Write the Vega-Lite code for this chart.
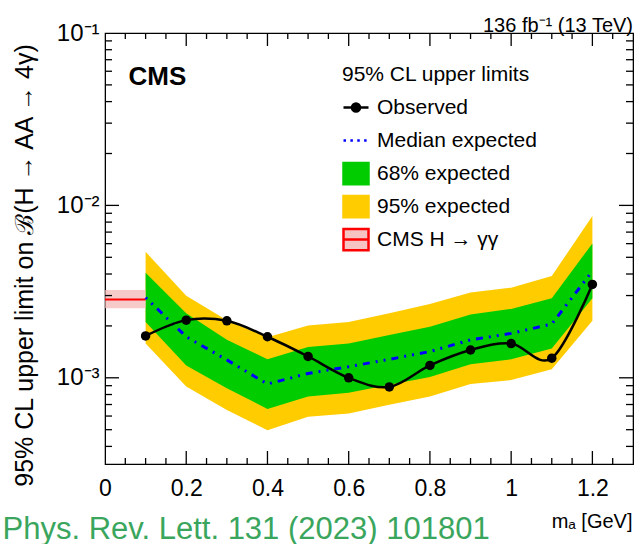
{
  "$schema": "https://vega.github.io/schema/vega-lite/v6.json",
  "width": 528,
  "height": 431,
  "autosize": {"type": "none"},
  "padding": {"left": 105, "top": 33, "right": 8, "bottom": 80},
  "background": "white",
  "title": {"text": "136 fb⁻¹ (13 TeV)", "anchor": "end", "fontSize": 20, "fontWeight": "normal", "font": "Liberation Sans", "offset": 6, "dy": 21, "color": "black"},
  "config": {
    "view": {"stroke": "black", "strokeWidth": 1.2},
    "font": "Liberation Sans",
    "tick": {"color": "black", "thickness": 1.3, "opacity": 1},
    "axis": {"grid": false, "ticks": false, "domainColor": "black", "labelColor": "black", "titleColor": "black", "labelFont": "Liberation Sans", "titleFont": "Liberation Sans", "titleFontWeight": "normal", "labelOverlap": false, "labelFlush": false}
  },
  "datasets": {
    "lim": [
      {"m": 0.1, "obs": 0.00175, "exp": 0.00292, "lo68": 0.00211, "hi68": 0.00407, "lo95": 0.00158, "hi95": 0.00538},
      {"m": 0.2, "obs": 0.00216, "exp": 0.00173, "lo68": 0.00118, "hi68": 0.00237, "lo95": 0.00089, "hi95": 0.00299},
      {"m": 0.3, "obs": 0.00214, "exp": 0.00127, "lo68": 0.00087, "hi68": 0.00166, "lo95": 0.00065, "hi95": 0.00216},
      {"m": 0.4, "obs": 0.00173, "exp": 0.00092, "lo68": 0.00066, "hi68": 0.00128, "lo95": 0.000497, "hi95": 0.00172},
      {"m": 0.5, "obs": 0.00133, "exp": 0.00106, "lo68": 0.00078, "hi68": 0.00151, "lo95": 0.000594, "hi95": 0.00201},
      {"m": 0.6, "obs": 0.00100, "exp": 0.00116, "lo68": 0.00082, "hi68": 0.00158, "lo95": 0.00062, "hi95": 0.00211},
      {"m": 0.7, "obs": 0.000885, "exp": 0.00128, "lo68": 0.00091, "hi68": 0.00177, "lo95": 0.000698, "hi95": 0.00237},
      {"m": 0.8, "obs": 0.00118, "exp": 0.00142, "lo68": 0.00101, "hi68": 0.00198, "lo95": 0.00078, "hi95": 0.00268},
      {"m": 0.9, "obs": 0.00145, "exp": 0.00166, "lo68": 0.00120, "hi68": 0.00233, "lo95": 0.00092, "hi95": 0.00312},
      {"m": 1.0, "obs": 0.00158, "exp": 0.00181, "lo68": 0.00128, "hi68": 0.00251, "lo95": 0.00097, "hi95": 0.00333},
      {"m": 1.1, "obs": 0.00130, "exp": 0.00205, "lo68": 0.00148, "hi68": 0.00289, "lo95": 0.00112, "hi95": 0.00389},
      {"m": 1.2, "obs": 0.00348, "exp": 0.00416, "lo68": 0.00289, "hi68": 0.00602, "lo95": 0.00214, "hi95": 0.00869}
    ],
    "hgg": [
      {"m": 0.0, "lo": 0.00253, "hi": 0.00323, "mid": 0.00285},
      {"m": 0.1, "lo": 0.00253, "hi": 0.00323, "mid": 0.00285}
    ],
    "xt": [
      {"v": 0.05, "major": false}, {"v": 0.1, "major": false}, {"v": 0.15, "major": false}, {"v": 0.2, "major": true},
      {"v": 0.25, "major": false}, {"v": 0.3, "major": false}, {"v": 0.35, "major": false}, {"v": 0.4, "major": true},
      {"v": 0.45, "major": false}, {"v": 0.5, "major": false}, {"v": 0.55, "major": false}, {"v": 0.6, "major": true},
      {"v": 0.65, "major": false}, {"v": 0.7, "major": false}, {"v": 0.75, "major": false}, {"v": 0.8, "major": true},
      {"v": 0.85, "major": false}, {"v": 0.9, "major": false}, {"v": 0.95, "major": false}, {"v": 1.0, "major": true},
      {"v": 1.05, "major": false}, {"v": 1.1, "major": false}, {"v": 1.15, "major": false}, {"v": 1.2, "major": true},
      {"v": 1.25, "major": false}
    ],
    "yt": [
      {"v": 0.0004, "major": false}, {"v": 0.0005, "major": false}, {"v": 0.0006, "major": false}, {"v": 0.0007, "major": false},
      {"v": 0.0008, "major": false}, {"v": 0.0009, "major": false}, {"v": 0.001, "major": true},
      {"v": 0.002, "major": false}, {"v": 0.003, "major": false}, {"v": 0.004, "major": false}, {"v": 0.005, "major": false},
      {"v": 0.006, "major": false}, {"v": 0.007, "major": false}, {"v": 0.008, "major": false}, {"v": 0.009, "major": false},
      {"v": 0.01, "major": true},
      {"v": 0.02, "major": false}, {"v": 0.03, "major": false}, {"v": 0.04, "major": false}, {"v": 0.05, "major": false},
      {"v": 0.06, "major": false}, {"v": 0.07, "major": false}, {"v": 0.08, "major": false}, {"v": 0.09, "major": false}
    ],
    "leg": [
      {"series": "Observed"},
      {"series": "Median expected"},
      {"series": "68% expected"},
      {"series": "95% expected"},
      {"series": "CMS H → γγ"}
    ]
  },
  "layer": [
    {
      "data": {"name": "lim"},
      "mark": {"type": "area", "color": "#ffcc00", "interpolate": "linear"},
      "encoding": {
        "x": {"field": "m", "type": "quantitative", "scale": {"domain": [0, 1.3], "nice": false, "zero": false},
          "axis": {"orient": "bottom", "values": [0, 0.2, 0.4, 0.6, 0.8, 1.0, 1.2],
            "format": "~g", "labelFontSize": 23, "labelPadding": 13,
            "title": "mₐ [GeV]", "titleFontSize": 20, "titleX": 527, "titleY": 63, "titleAlign": "right", "titleBaseline": "alphabetic"}},
        "y": {"field": "lo95", "type": "quantitative", "scale": {"type": "log", "domain": [0.00031623, 0.1], "nice": false},
          "axis": {"orient": "left", "values": [0.001, 0.01, 0.1],
            "labelExpr": "'10⁻' + ['','¹','²','³','⁴'][-round(log(datum.value)/LN10)]",
            "labelFontSize": 24, "labelPadding": 6,
            "title": "95% CL upper limit on ℬ(H → AA → 4γ)", "titleFontSize": 25, "titleX": -81, "titleY": 232, "titleAlign": "center", "titleBaseline": "middle", "titleAngle": -90}},
        "y2": {"field": "hi95"}
      }
    },
    {
      "data": {"name": "lim"},
      "mark": {"type": "area", "color": "#00cc00", "interpolate": "linear"},
      "encoding": {
        "x": {"field": "m", "type": "quantitative",
          "axis": {"orient": "top", "values": [0, 0.2, 0.4, 0.6, 0.8, 1.0, 1.2], "labels": false,
            "title": "CMS", "titleFontSize": 26, "titleFontWeight": "bold", "titleX": 23, "titleY": 51, "titleAlign": "left", "titleBaseline": "alphabetic"}},
        "y": {"field": "lo68", "type": "quantitative",
          "axis": {"orient": "right", "values": [0.001, 0.01, 0.1], "labels": false,
            "title": "Phys. Rev. Lett. 131 (2023) 101801", "titleColor": "#3aa65d", "titleFontSize": 31, "titleAngle": 0, "titleX": -631, "titleY": 505, "titleAlign": "left", "titleBaseline": "alphabetic"}},
        "y2": {"field": "hi68"}
      }
    },
    {
      "data": {"name": "hgg"},
      "mark": {"type": "area", "color": "#f4b4b4", "opacity": 0.7},
      "encoding": {
        "x": {"field": "m", "type": "quantitative", "axis": null},
        "y": {"field": "lo", "type": "quantitative", "axis": null},
        "y2": {"field": "hi"}
      }
    },
    {
      "data": {"name": "hgg"},
      "mark": {"type": "line", "color": "#ff0000", "strokeWidth": 2},
      "encoding": {
        "x": {"field": "m", "type": "quantitative", "axis": null},
        "y": {"field": "mid", "type": "quantitative", "axis": null}
      }
    },
    {
      "data": {"name": "lim"},
      "mark": {"type": "line", "color": "#0000ff", "strokeWidth": 3, "strokeDash": [2, 6, 2, 6, 7, 6]},
      "encoding": {
        "x": {"field": "m", "type": "quantitative", "axis": null},
        "y": {"field": "exp", "type": "quantitative", "axis": null}
      }
    },
    {
      "data": {"name": "lim"},
      "mark": {"type": "line", "color": "black", "strokeWidth": 2.5, "interpolate": "cardinal"},
      "encoding": {
        "x": {"field": "m", "type": "quantitative", "axis": null},
        "y": {"field": "obs", "type": "quantitative", "axis": null}
      }
    },
    {
      "data": {"name": "lim"},
      "mark": {"type": "point", "filled": true, "color": "black", "size": 90, "opacity": 1},
      "encoding": {
        "x": {"field": "m", "type": "quantitative", "axis": null},
        "y": {"field": "obs", "type": "quantitative", "axis": null}
      }
    },
    {
      "data": {"name": "xt"},
      "transform": [{"filter": "datum.major"}],
      "mark": {"type": "tick", "orient": "vertical", "size": 13, "yOffset": -6.5},
      "encoding": {
        "x": {"field": "v", "type": "quantitative", "axis": null},
        "y": {"datum": 0.00031623, "type": "quantitative", "axis": null}
      }
    },
    {
      "data": {"name": "xt"},
      "transform": [{"filter": "!datum.major"}],
      "mark": {"type": "tick", "orient": "vertical", "size": 6, "yOffset": -3},
      "encoding": {
        "x": {"field": "v", "type": "quantitative", "axis": null},
        "y": {"datum": 0.00031623, "type": "quantitative", "axis": null}
      }
    },
    {
      "data": {"name": "xt"},
      "transform": [{"filter": "datum.major"}],
      "mark": {"type": "tick", "orient": "vertical", "size": 13, "yOffset": 6.5},
      "encoding": {
        "x": {"field": "v", "type": "quantitative", "axis": null},
        "y": {"datum": 0.1, "type": "quantitative", "axis": null}
      }
    },
    {
      "data": {"name": "xt"},
      "transform": [{"filter": "!datum.major"}],
      "mark": {"type": "tick", "orient": "vertical", "size": 6, "yOffset": 3},
      "encoding": {
        "x": {"field": "v", "type": "quantitative", "axis": null},
        "y": {"datum": 0.1, "type": "quantitative", "axis": null}
      }
    },
    {
      "data": {"name": "yt"},
      "transform": [{"filter": "datum.major"}],
      "mark": {"type": "tick", "orient": "horizontal", "size": 14, "xOffset": 7},
      "encoding": {
        "y": {"field": "v", "type": "quantitative", "axis": null},
        "x": {"datum": 0, "type": "quantitative", "axis": null}
      }
    },
    {
      "data": {"name": "yt"},
      "transform": [{"filter": "!datum.major"}],
      "mark": {"type": "tick", "orient": "horizontal", "size": 7, "xOffset": 3.5},
      "encoding": {
        "y": {"field": "v", "type": "quantitative", "axis": null},
        "x": {"datum": 0, "type": "quantitative", "axis": null}
      }
    },
    {
      "data": {"name": "yt"},
      "transform": [{"filter": "datum.major"}],
      "mark": {"type": "tick", "orient": "horizontal", "size": 14, "xOffset": -7},
      "encoding": {
        "y": {"field": "v", "type": "quantitative", "axis": null},
        "x": {"datum": 1.3, "type": "quantitative", "axis": null}
      }
    },
    {
      "data": {"name": "yt"},
      "transform": [{"filter": "!datum.major"}],
      "mark": {"type": "tick", "orient": "horizontal", "size": 7, "xOffset": -3.5},
      "encoding": {
        "y": {"field": "v", "type": "quantitative", "axis": null},
        "x": {"datum": 1.3, "type": "quantitative", "axis": null}
      }
    },
    {
      "data": {"name": "leg"},
      "transform": [{"filter": "false"}],
      "mark": {"type": "point", "filled": true, "opacity": 1},
      "encoding": {
        "fill": {"field": "series", "type": "nominal",
          "scale": {"domain": ["Observed", "Median expected", "68% expected", "95% expected", "CMS H → γγ"], "range": ["black", "#0000ff", "#00cc00", "#ffcc00", "#f7c4c4"]},
          "legend": {"title": "95% CL upper limits", "orient": "none", "legendX": 237, "legendY": 31, "padding": 0,
            "titleFontSize": 21, "titleFontWeight": "normal", "titleColor": "black", "titleFont": "Liberation Sans", "titlePadding": 10, "titleLimit": 400,
            "labelFontSize": 21, "labelColor": "black", "labelFont": "Liberation Sans", "labelOffset": 7, "labelLimit": 400,
            "symbolSize": 625, "symbolStrokeWidth": 2.5, "rowPadding": 8, "clipHeight": 25, "symbolOpacity": 1}},
        "stroke": {"field": "series", "type": "nominal",
          "scale": {"domain": ["Observed", "Median expected", "68% expected", "95% expected", "CMS H → γγ"], "range": ["black", "#0000ff", "#00cc00", "#ffcc00", "#ff0000"]}},
        "shape": {"field": "series", "type": "nominal",
          "scale": {"domain": ["Observed", "Median expected", "68% expected", "95% expected", "CMS H → γγ"],
            "range": ["M-1,0H1M0.32,0A0.32,0.32 0 1,1 -0.32,0A0.32,0.32 0 1,1 0.32,0", "M-1,0H-0.8M-0.45,0H-0.25M0.1,0H0.3M0.65,0H0.85", "M-1,-0.85H1V0.85H-1Z", "M-1,-0.85H1V0.85H-1Z", "M-1,-0.85H1V0.85H-1ZM-1,0H1"]}}
      }
    }
  ],
  "resolve": {"axis": {"x": "independent", "y": "independent"}}
}
